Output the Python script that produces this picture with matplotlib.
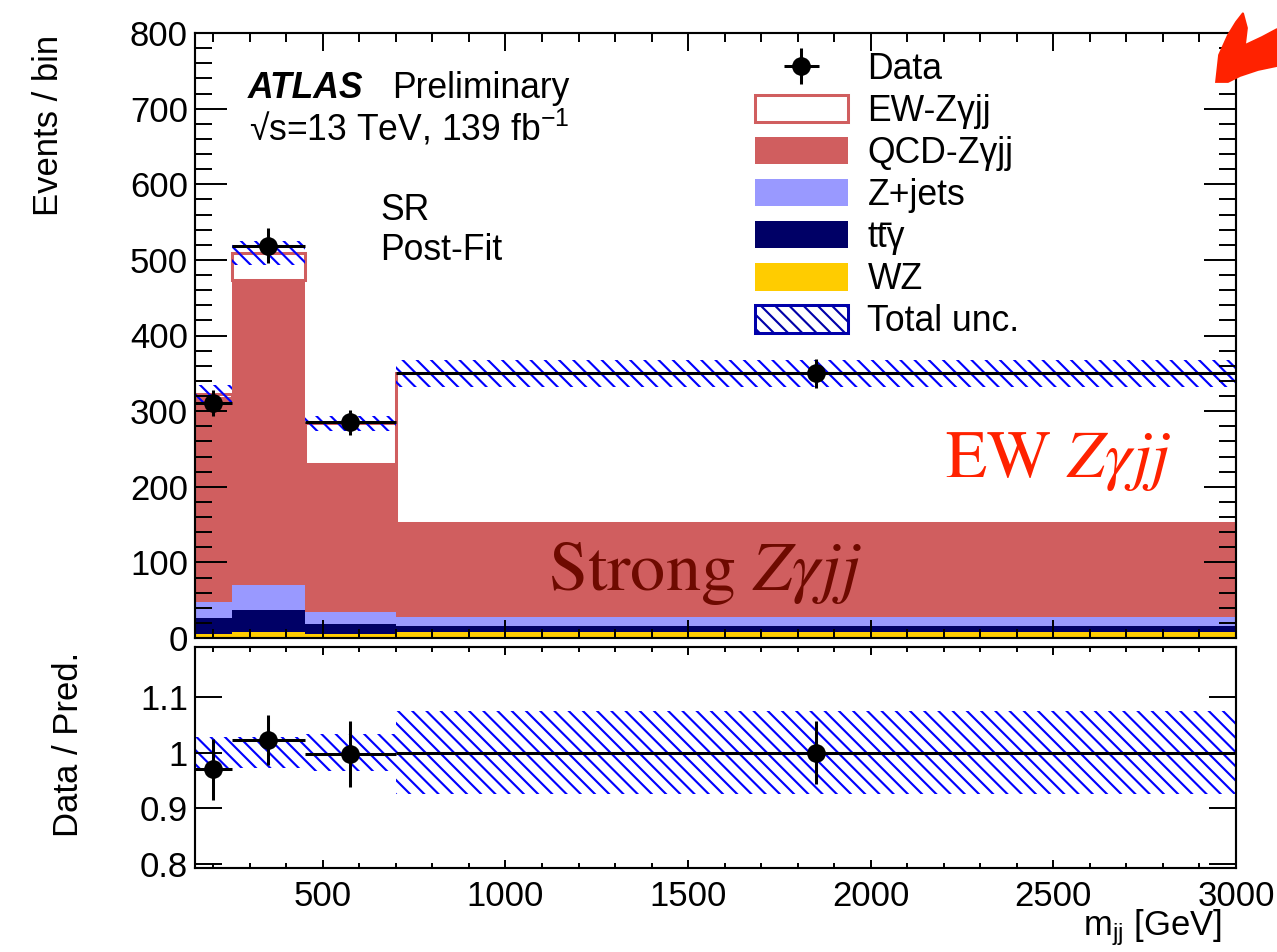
import matplotlib

matplotlib.use("Agg")
import matplotlib.pyplot as plt
import numpy as np
from matplotlib.patches import Patch, Polygon
from matplotlib.ticker import FixedLocator, FuncFormatter, MultipleLocator, NullLocator

# binning and post-fit yields
EDGES = [150, 250, 450, 700, 3000]
WZ = [5, 8, 5, 8]
TTG = [21, 29, 13, 8]
ZJETS = [22, 33, 17, 12]
QCD = [270, 403, 195, 124]
EW = [5, 36, 54, 198]
UNC = [12, 16, 10, 18]
DATA = [311, 519, 285, 350]
DATA_ERR = [17, 23, 17, 19]
# ratio panel
RATIO = [0.970, 1.022, 0.997, 1.000]
RATIO_ERR = [0.055, 0.045, 0.060, 0.057]
RATIO_UNC = [0.028, 0.028, 0.034, 0.074]

C_QCD = "#d05e5f"
C_ZJ = "#9999ff"
C_TTG = "#000066"
C_WZ = "#ffcc00"
HATCH = "\\\\\\"

W, H, DPI = 1277, 952, 128
FS = 19.5

plt.rcParams.update({
    "font.family": ["Liberation Sans", "DejaVu Sans"],
    "mathtext.fontset": "custom",
    "mathtext.rm": "Liberation Sans",
    "mathtext.it": "Liberation Sans:italic",
    "mathtext.bf": "Liberation Sans:bold",
    "hatch.linewidth": 1.2,
    "font.size": FS,
})


def fx(px):
    return px / W


def fy(py):
    return 1 - py / H


def style_axis(ax, ymaj, ymin, xmaj, xmin):
    ax.tick_params(axis="both", which="both", direction="in", top=True, right=True,
                   width=1.1, labelsize=FS, colors="k")
    ax.tick_params(axis="y", which="major", length=ymaj, pad=4)
    ax.tick_params(axis="y", which="minor", length=ymin)
    ax.tick_params(axis="x", which="major", length=xmaj, pad=7)
    ax.tick_params(axis="x", which="minor", length=xmin)
    for s in ax.spines.values():
        s.set_linewidth(1.2)


def main():
    edges = np.array(EDGES, dtype=float)
    width = np.diff(edges)
    centers = edges[:-1] + width / 2

    fig = plt.figure(figsize=(W / DPI, H / DPI), dpi=DPI)
    ax = fig.add_axes([fx(195), fy(638), fx(1041), 605 / H])
    rax = fig.add_axes([fx(195), fy(868), fx(1041), (868 - 647) / H], sharex=ax)

    # stacked backgrounds
    bottom = np.zeros(len(WZ))
    for vals, col in [(WZ, C_WZ), (TTG, C_TTG), (ZJETS, C_ZJ), (QCD, C_QCD)]:
        top = bottom + np.array(vals, dtype=float)
        ax.stairs(top, edges, baseline=bottom, fill=True, color=col, lw=0)
        bottom = top
    ax.bar(edges[:-1], EW, width, bottom=bottom, align="edge",
           facecolor="white", edgecolor=C_QCD, lw=1.7)
    total = bottom + np.array(EW)
    unc = np.array(UNC, dtype=float)
    ax.bar(edges[:-1], 2 * unc, width, bottom=total - unc, align="edge",
           fill=False, hatch=HATCH, edgecolor="blue", lw=0)
    data = ax.errorbar(centers, DATA, yerr=DATA_ERR, xerr=width / 2, fmt="o", color="k",
                       ms=9.5, lw=1.7, capsize=0, zorder=5)

    ax.set_xlim(150, 3000)
    ax.set_ylim(0, 800)
    ax.xaxis.set_major_locator(MultipleLocator(500))
    ax.xaxis.set_minor_locator(MultipleLocator(100))
    ax.yaxis.set_major_locator(MultipleLocator(100))
    ax.yaxis.set_minor_locator(MultipleLocator(20))
    style_axis(ax, 18, 9.5, 10, 5)
    ax.tick_params(axis="x", labelbottom=False)

    # ratio panel
    runc = np.array(RATIO_UNC)
    rax.bar(edges[:-1], 2 * runc, width, bottom=1 - runc, align="edge",
            fill=False, hatch=HATCH, edgecolor="blue", lw=0)
    rax.errorbar(centers, RATIO, yerr=RATIO_ERR, xerr=width / 2, fmt="o", color="k",
                 ms=9.5, lw=1.7, capsize=0, zorder=5)
    rax.set_ylim(0.792, 1.19)
    rax.yaxis.set_major_locator(FixedLocator([0.8, 0.9, 1.0, 1.1]))
    rax.yaxis.set_minor_locator(NullLocator())
    rax.yaxis.set_major_formatter(FuncFormatter(lambda v, _: f"{v:g}"))
    rax.xaxis.set_major_formatter(FuncFormatter(lambda v, _: f"{v:g}"))
    style_axis(rax, 15, 8, 4.5, 2.8)

    # axis titles
    fig.text(fx(48), fy(35), "Events / bin", rotation=90, ha="center", va="top", fontsize=FS)
    fig.text(fx(68), fy(744), "Data / Pred.", rotation=90, ha="center", va="center", fontsize=FS)
    fig.text(fx(1222), fy(928), r"m$_{\mathrm{jj}}$ [GeV]", ha="right", va="center", fontsize=FS)

    # labels
    ax.text(0.051, 0.909, "ATLAS", transform=ax.transAxes, fontsize=FS + 0.5,
            fontweight="bold", fontstyle="italic", va="center")
    ax.text(0.189, 0.909, "Preliminary", transform=ax.transAxes, fontsize=FS + 0.5, va="center")
    ax.text(0.052, 0.843, r"√s=13 TeV, 139 fb$^{-1}$", transform=ax.transAxes,
            fontsize=FS + 0.5, va="center")
    ax.text(0.178, 0.707, "SR", transform=ax.transAxes, fontsize=FS + 0.5, va="center")
    ax.text(0.178, 0.641, "Post-Fit", transform=ax.transAxes, fontsize=FS + 0.5, va="center")

    ax.text(0.720, 0.266, r"EW $Z\gamma jj$", transform=ax.transAxes, fontsize=38,
            color="#ff2200", va="baseline", family="STIXGeneral", math_fontfamily="stix")
    ax.text(0.339, 0.080, r"Strong $Z\gamma jj$", transform=ax.transAxes, fontsize=39.5,
            color="#6e0a00", va="baseline", family="STIXGeneral", math_fontfamily="stix",
            zorder=6)

    handles = [
        data,
        Patch(facecolor="white", edgecolor=C_QCD, lw=1.7),
        Patch(facecolor=C_QCD, lw=0),
        Patch(facecolor=C_ZJ, lw=0),
        Patch(facecolor=C_TTG, lw=0),
        Patch(facecolor=C_WZ, lw=0),
        Patch(facecolor="white", edgecolor="#0000aa", hatch=HATCH, lw=1.7),
    ]
    labels = ["Data", "EW-Zγjj", "QCD-Zγjj", "Z+jets", "tt\u0304γ", "WZ", "Total unc."]
    ax.legend(handles, labels, loc="upper left", bbox_to_anchor=(0.538, 0.969),
              frameon=False, fontsize=FS + 0.5, borderpad=0, borderaxespad=0,
              handlelength=2.6, handleheight=0.8, handletextpad=0.56, labelspacing=0.2)

    # red hand-drawn arrow in the corner
    arrow_px = [(1216, 82), (1219, 55), (1228, 35), (1236, 22), (1243, 13), (1247, 28),
                (1245, 45), (1262, 37), (1277, 29), (1277, 66), (1258, 70), (1240, 76),
                (1228, 82)]
    fig.patches.append(Polygon([(fx(x), fy(y)) for x, y in arrow_px], closed=True,
                               transform=fig.transFigure, facecolor="#ff2200",
                               edgecolor="#ff2200", lw=1))

    fig.savefig("out.png", dpi=DPI)


if __name__ == "__main__":
    main()
